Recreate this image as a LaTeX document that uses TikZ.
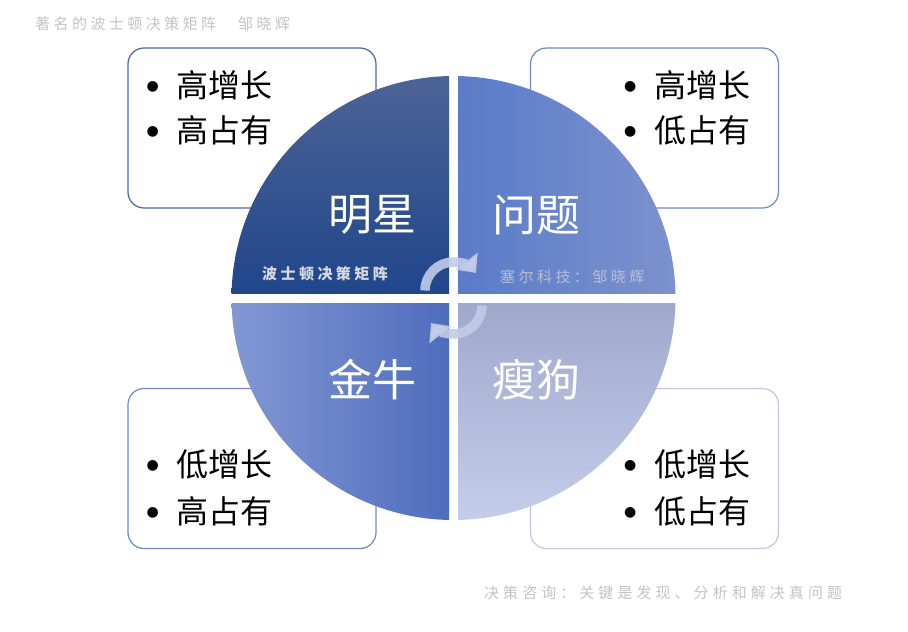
\documentclass[tikz,border=0pt]{standalone}
\usepackage{fontspec}
\newfontfamily\cjk{Noto Sans CJK SC}
\newfontfamily\symf{DejaVu Sans}
\newfontfamily\cjksp[LetterSpace=23]{Noto Sans CJK SC}
\newfontfamily\cjkwide[LetterSpace=27]{Noto Sans CJK SC}
\usetikzlibrary{arrows.meta}
\definecolor{tlTop}{HTML}{4D6396}
\definecolor{tlBot}{HTML}{20468B}
\definecolor{trLeft}{HTML}{5A7BC9}
\definecolor{trRight}{HTML}{7D92CD}
\definecolor{blLeft}{HTML}{8398D3}
\definecolor{blMid}{HTML}{6683CD}
\definecolor{blRight}{HTML}{4F6CBD}
\definecolor{brTop}{HTML}{A0A9CC}
\definecolor{brBot}{HTML}{C4CDEA}
\definecolor{edgeTL}{HTML}{4A6AA8}
\definecolor{edgeMid}{HTML}{6F88C8}
\definecolor{edgeBR}{HTML}{C0C8E6}
\definecolor{arrowc}{HTML}{C3CBE8}
\definecolor{notegray}{HTML}{C4C4C4}
\definecolor{notelight}{HTML}{D6D8E2}
\definecolor{noteblue}{HTML}{B8BED6}
\newcommand{\bigbul}{\makebox[30pt][c]{\raisebox{6.5pt}{\symf\fontsize{14}{14}\selectfont ●}}\hspace{9pt}}
\begin{document}
\begin{tikzpicture}[x=1pt,y=-1pt,
  infobox/.style={draw, rounded corners=16pt, line width=1.2pt, fill=white, minimum width=248pt, minimum height=160pt, inner sep=0},
  quadlabel/.style={text=white, font=\cjk\fontsize{44}{44}\selectfont, inner sep=0},
  bulletline/.style={anchor=base west, inner sep=0, font=\fontsize{32}{32}\selectfont},
  smallnote/.style={anchor=west, inner sep=0, font=\cjksp\fontsize{15}{15}\selectfont},
  cyclearrow/.style={line width=9.5pt, draw=arrowc, draw opacity=0.9, -{Triangle[width=27pt,length=15pt]}}
]
\fill[white] (0,0) rectangle (908,632);
\useasboundingbox (0,0) rectangle (908,632);

% info boxes (behind circle)
\node[infobox, draw=edgeTL] (boxTL) at (252,128) {};
\node[infobox, draw=edgeMid] (boxTR) at (654.5,128) {};
\node[infobox, draw=edgeMid] (boxBL) at (252,468.5) {};
\node[infobox, draw=edgeBR] (boxBR) at (654.5,468.5) {};

% circle quadrants
\coordinate (O) at (453.5,298);
\begin{scope}
  \clip (O) circle[radius=222];
  \shade[top color=tlTop, bottom color=tlBot] (231,76) rectangle (449,293);
  \shade[left color=trLeft, right color=trRight] (458,76) rectangle (676,293);
  \shade[left color=blLeft, middle color=blMid, right color=blRight] (231,303) rectangle (449,521);
  \shade[top color=brTop, bottom color=brBot] (458,303) rectangle (676,521);
\end{scope}

% quadrant labels
\node[quadlabel] (qTL) at (372,215) {明星};
\node[quadlabel] (qTR) at (536,215) {问题};
\node[quadlabel] (qBL) at (372,380) {金牛};
\node[quadlabel] (qBR) at (536,380) {瘦狗};

% bullet texts
\node[bulletline] (tl1) at (137.5,97) {\bigbul{\cjk 高增长}};
\node[bulletline] (tl2) at (137.5,142) {\bigbul{\cjk 高占有}};
\node[bulletline] (tr1) at (615,97) {\bigbul{\cjk 高增长}};
\node[bulletline] (tr2) at (615,142) {\bigbul{\cjk 低占有}};
\node[bulletline] (bl1) at (137.5,476) {\bigbul{\cjk 低增长}};
\node[bulletline] (bl2) at (137.5,523) {\bigbul{\cjk 高占有}};
\node[bulletline] (br1) at (615,476) {\bigbul{\cjk 低增长}};
\node[bulletline] (br2) at (615,523) {\bigbul{\cjk 低占有}};

% cycle arrows
\coordinate (cu) at (453.5,290.5);
\coordinate (cl) at (453.5,305.5);
\draw[cyclearrow] (cu) ++(180:28.5) arc[start angle=180, end angle=322, radius=28.5];
\draw[cyclearrow] (cl) ++(0:28.5) arc[start angle=0, end angle=142, radius=28.5];

% notes
\node[smallnote, text=notegray] (title) at (35,24) {著名的波士顿决策矩阵　邹晓辉};
\node[smallnote, text=notelight, font=\cjksp\bfseries\fontsize{15}{15}\selectfont] (inner1) at (262,274) {波士顿决策矩阵};
\node[smallnote, text=noteblue] (inner2) at (500,277) {塞尔科技：邹晓辉};
\node[smallnote, text=notegray, font=\cjkwide\fontsize{15}{15}\selectfont] (foot) at (484,593) {决策咨询：关键是发现、分析和解决真问题};
\end{tikzpicture}
\end{document}
